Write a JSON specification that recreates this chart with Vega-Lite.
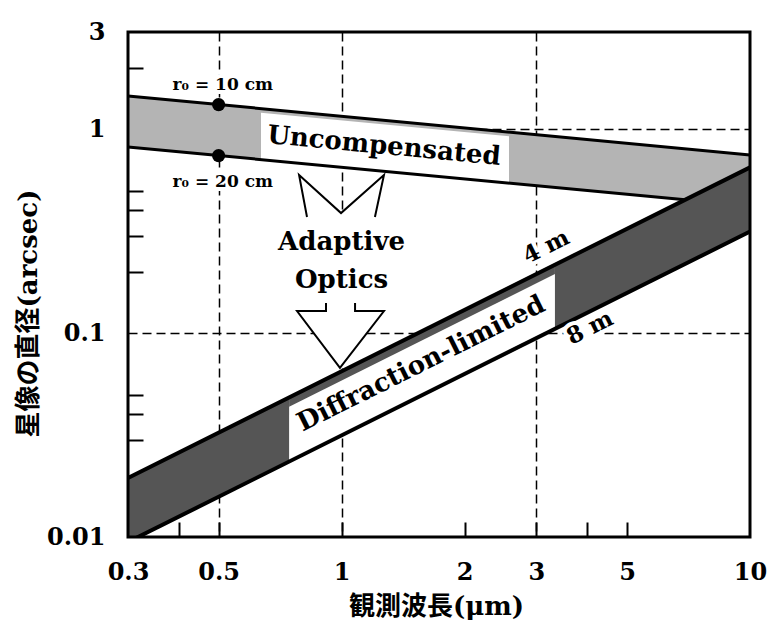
{
  "$schema": "https://vega.github.io/schema/vega-lite/v6.json",
  "width": 622,
  "height": 505,
  "autosize": {"type": "none"},
  "padding": {"left": 128, "top": 32, "right": 22, "bottom": 88},
  "background": "white",
  "config": {"view": {"stroke": null}},
  "encoding": {
    "x": {
      "field": "x", "type": "quantitative",
      "scale": {"type": "log", "domain": [0.3, 10], "nice": false},
      "axis": {
        "values": [0.3, 0.4, 0.5, 1, 2, 3, 4, 5, 10],
        "format": "~g",
        "labelExpr": "datum.value == 0.4 || datum.value == 4 ? '' : datum.label",
        "labelFont": "DejaVu Serif", "labelFontSize": 24, "labelFontWeight": "bold", "labelColor": "black",
        "labelFlush": false, "labelOverlap": false, "labelPadding": 38, "labelBound": false,
        "domain": false,
        "ticks": true, "tickSize": -15, "tickWidth": 2, "tickColor": "black",
        "tickOpacity": {"condition": {"test": "datum.value == 0.3 || datum.value == 10", "value": 0}, "value": 1},
        "grid": true, "gridColor": "black", "gridWidth": 1.5, "gridDash": [9, 5],
        "gridOpacity": {"condition": {"test": "datum.value == 0.5 || datum.value == 1 || datum.value == 3", "value": 1}, "value": 0},
        "title": "観測波長(μm)",
        "titleFont": "DejaVu Serif, Noto Sans CJK JP", "titleFontSize": 26, "titleFontWeight": "bold", "titleColor": "black",
        "titleX": 308, "titleY": 69, "titleBaseline": "middle", "titleAlign": "center"
      }
    },
    "y": {
      "field": "y", "type": "quantitative", "stack": null,
      "scale": {"type": "log", "domain": [0.01, 3], "nice": false},
      "axis": {
        "values": [3, 2, 1, 0.5, 0.4, 0.3, 0.2, 0.1, 0.05, 0.04, 0.03, 0.02, 0.01],
        "format": "~g",
        "labelExpr": "datum.value == 3 || datum.value == 1 || datum.value == 0.1 || datum.value == 0.01 ? datum.label : ''",
        "labelFont": "DejaVu Serif", "labelFontSize": 24, "labelFontWeight": "bold", "labelColor": "black",
        "labelFlush": false, "labelOverlap": false, "labelPadding": 38, "labelBound": false,
        "domain": false,
        "ticks": true, "tickSize": -15, "tickWidth": 2, "tickColor": "black",
        "tickOpacity": {"condition": {"test": "datum.value == 3 || datum.value == 0.01 || datum.value == 0.1", "value": 0}, "value": 1},
        "grid": true, "gridColor": "black", "gridWidth": 1.5, "gridDash": [9, 5],
        "gridOpacity": {"condition": {"test": "datum.value == 1 || datum.value == 0.1", "value": 1}, "value": 0},
        "title": "星像の直径(arcsec)",
        "titleFont": "DejaVu Serif, Noto Sans CJK JP", "titleFontSize": 26, "titleFontWeight": "bold", "titleColor": "black",
        "titleAngle": -90, "titleX": -100, "titleY": 281, "titleBaseline": "middle", "titleAlign": "center"
      }
    }
  },
  "layer": [
    {
      "data": {"values": [
        {"x": 0.635, "y": 1.263, "lo": 0.710},
        {"x": 2.57, "y": 0.969, "lo": 0.545}
      ]},
      "mark": {"type": "area", "color": "white", "opacity": 1},
      "encoding": {"y2": {"field": "lo"}}
    },
    {
      "data": {"values": [
        {"seg": "a", "x": 0.3, "y": 1.457, "lo": 0.819},
        {"seg": "a", "x": 0.635, "y": 1.263, "lo": 0.710},
        {"seg": "b", "x": 0.635, "y": 1.263, "lo": 1.206},
        {"seg": "b", "x": 2.57, "y": 0.969, "lo": 0.925},
        {"seg": "c", "x": 2.57, "y": 0.969, "lo": 0.545},
        {"seg": "c", "x": 6.94, "y": 0.802, "lo": 0.451},
        {"seg": "c", "x": 10, "y": 0.748, "lo": 0.65}
      ]},
      "mark": {"type": "area", "color": "#b4b4b4", "opacity": 1},
      "encoding": {"y2": {"field": "lo"}, "detail": {"field": "seg"}}
    },
    {
      "data": {"values": [
        {"x": 0.744, "y": 0.04836, "lo": 0.02344},
        {"x": 3.33, "y": 0.2165, "lo": 0.1049}
      ]},
      "mark": {"type": "area", "color": "white", "opacity": 1},
      "encoding": {"y2": {"field": "lo"}}
    },
    {
      "data": {"values": [
        {"seg": "a", "x": 0.3, "y": 0.0195, "lo": 0.00945},
        {"seg": "a", "x": 0.744, "y": 0.04836, "lo": 0.02344},
        {"seg": "b", "x": 0.744, "y": 0.04836, "lo": 0.0435},
        {"seg": "b", "x": 3.33, "y": 0.2165, "lo": 0.1949},
        {"seg": "c", "x": 3.33, "y": 0.2165, "lo": 0.1049},
        {"seg": "c", "x": 10, "y": 0.65, "lo": 0.315}
      ]},
      "mark": {"type": "area", "color": "#555555", "opacity": 1, "clip": true},
      "encoding": {"y2": {"field": "lo"}, "detail": {"field": "seg"}}
    },
    {
      "data": {"values": [
        {"line": "r0=10cm", "x": 0.3, "y": 1.457},
        {"line": "r0=10cm", "x": 10, "y": 0.748},
        {"line": "r0=20cm", "x": 0.3, "y": 0.819},
        {"line": "r0=20cm", "x": 6.94, "y": 0.451}
      ]},
      "mark": {"type": "line", "color": "black", "strokeWidth": 3},
      "encoding": {"detail": {"field": "line"}}
    },
    {
      "data": {"values": [
        {"line": "4m", "x": 0.3, "y": 0.0195},
        {"line": "4m", "x": 10, "y": 0.65},
        {"line": "8m", "x": 0.3, "y": 0.00945},
        {"line": "8m", "x": 10, "y": 0.315}
      ]},
      "mark": {"type": "line", "color": "black", "strokeWidth": 4, "clip": true},
      "encoding": {"detail": {"field": "line"}}
    },
    {
      "data": {"values": [
        {"x": 0.5, "y": 1.322},
        {"x": 0.5, "y": 0.743}
      ]},
      "mark": {"type": "point", "filled": true, "color": "black", "size": 175, "opacity": 1}
    },
    {
      "data": {"values": [
        {"i": 1, "x": 0.787, "y": 0.597},
        {"i": 2, "x": 0.997, "y": 0.388},
        {"i": 3, "x": 1.270, "y": 0.597},
        {"i": 4, "x": 1.207, "y": 0.371},
        {"i": 5, "x": 1.079, "y": 0.1407},
        {"i": 6, "x": 1.079, "y": 0.1284},
        {"i": 7, "x": 1.270, "y": 0.1284},
        {"i": 8, "x": 0.991, "y": 0.0675},
        {"i": 9, "x": 0.778, "y": 0.1284},
        {"i": 10, "x": 0.916, "y": 0.1284},
        {"i": 11, "x": 0.916, "y": 0.1407},
        {"i": 12, "x": 0.823, "y": 0.371}
      ]},
      "mark": {"type": "line", "fill": "white", "stroke": "white", "strokeWidth": 0.5},
      "encoding": {"order": {"field": "i", "type": "quantitative"}}
    },
    {
      "data": {"values": [
        {"part": "tail", "i": 1, "x": 0.823, "y": 0.371},
        {"part": "tail", "i": 2, "x": 0.787, "y": 0.597},
        {"part": "tail", "i": 3, "x": 0.997, "y": 0.388},
        {"part": "tail", "i": 4, "x": 1.270, "y": 0.597},
        {"part": "tail", "i": 5, "x": 1.207, "y": 0.371},
        {"part": "head", "i": 1, "x": 0.916, "y": 0.1407},
        {"part": "head", "i": 2, "x": 0.916, "y": 0.1284},
        {"part": "head", "i": 3, "x": 0.778, "y": 0.1284},
        {"part": "head", "i": 4, "x": 0.991, "y": 0.0675},
        {"part": "head", "i": 5, "x": 1.270, "y": 0.1284},
        {"part": "head", "i": 6, "x": 1.079, "y": 0.1284},
        {"part": "head", "i": 7, "x": 1.079, "y": 0.1407}
      ]},
      "mark": {"type": "line", "color": "black", "strokeWidth": 2},
      "encoding": {"detail": {"field": "part"}, "order": {"field": "i", "type": "quantitative"}}
    },
    {
      "data": {"values": [
        {"x": 0.512, "y": 1.648, "label": "r₀ = 10 cm"},
        {"x": 0.512, "y": 0.551, "label": "r₀ = 20 cm"}
      ]},
      "layer": [
        {"mark": {"type": "text", "font": "DejaVu Serif", "fontSize": 17, "fontWeight": "bold", "color": "white", "stroke": "white", "strokeWidth": 8, "strokeJoin": "round", "baseline": "middle", "align": "center"},
         "encoding": {"text": {"field": "label"}}},
        {"mark": {"type": "text", "font": "DejaVu Serif", "fontSize": 17, "fontWeight": "bold", "color": "black", "baseline": "middle", "align": "center"},
         "encoding": {"text": {"field": "label"}}}
      ]
    },
    {
      "data": {"values": [{"x": 1.27, "y": 0.828, "label": "Uncompensated"}]},
      "mark": {"type": "text", "font": "DejaVu Serif", "fontSize": 26, "fontWeight": "bold", "color": "black", "baseline": "middle", "align": "center", "angle": 5.4},
      "encoding": {"text": {"field": "label"}}
    },
    {
      "data": {"values": [
        {"x": 1.0, "y": 0.2558, "label": "Adaptive"},
        {"x": 1.0, "y": 0.1666, "label": "Optics"}
      ]},
      "mark": {"type": "text", "font": "DejaVu Serif", "fontSize": 26, "fontWeight": "bold", "color": "black", "baseline": "alphabetic", "align": "center"},
      "encoding": {"text": {"field": "label"}}
    },
    {
      "data": {"values": [{"x": 1.565, "y": 0.0708, "label": "Diffraction-limited"}]},
      "mark": {"type": "text", "font": "DejaVu Serif", "fontSize": 26, "fontWeight": "bold", "color": "black", "baseline": "middle", "align": "center", "angle": -26.5},
      "encoding": {"text": {"field": "label"}}
    },
    {
      "data": {"values": [
        {"x": 3.17, "y": 0.265, "label": "4 m"},
        {"x": 4.06, "y": 0.106, "label": "8 m"}
      ]},
      "layer": [
        {"mark": {"type": "text", "font": "DejaVu Serif", "fontSize": 23, "fontWeight": "bold", "color": "white", "stroke": "white", "strokeWidth": 8, "strokeJoin": "round", "baseline": "middle", "align": "center", "angle": -26.5},
         "encoding": {"text": {"field": "label"}}},
        {"mark": {"type": "text", "font": "DejaVu Serif", "fontSize": 23, "fontWeight": "bold", "color": "black", "baseline": "middle", "align": "center", "angle": -26.5},
         "encoding": {"text": {"field": "label"}}}
      ]
    },
    {
      "data": {"values": [{"x": 0.3, "xe": 10, "y": 0.01, "lo": 3}]},
      "mark": {"type": "rect", "filled": false, "color": "black", "strokeWidth": 3},
      "encoding": {"x2": {"field": "xe"}, "y2": {"field": "lo"}}
    }
  ]
}
